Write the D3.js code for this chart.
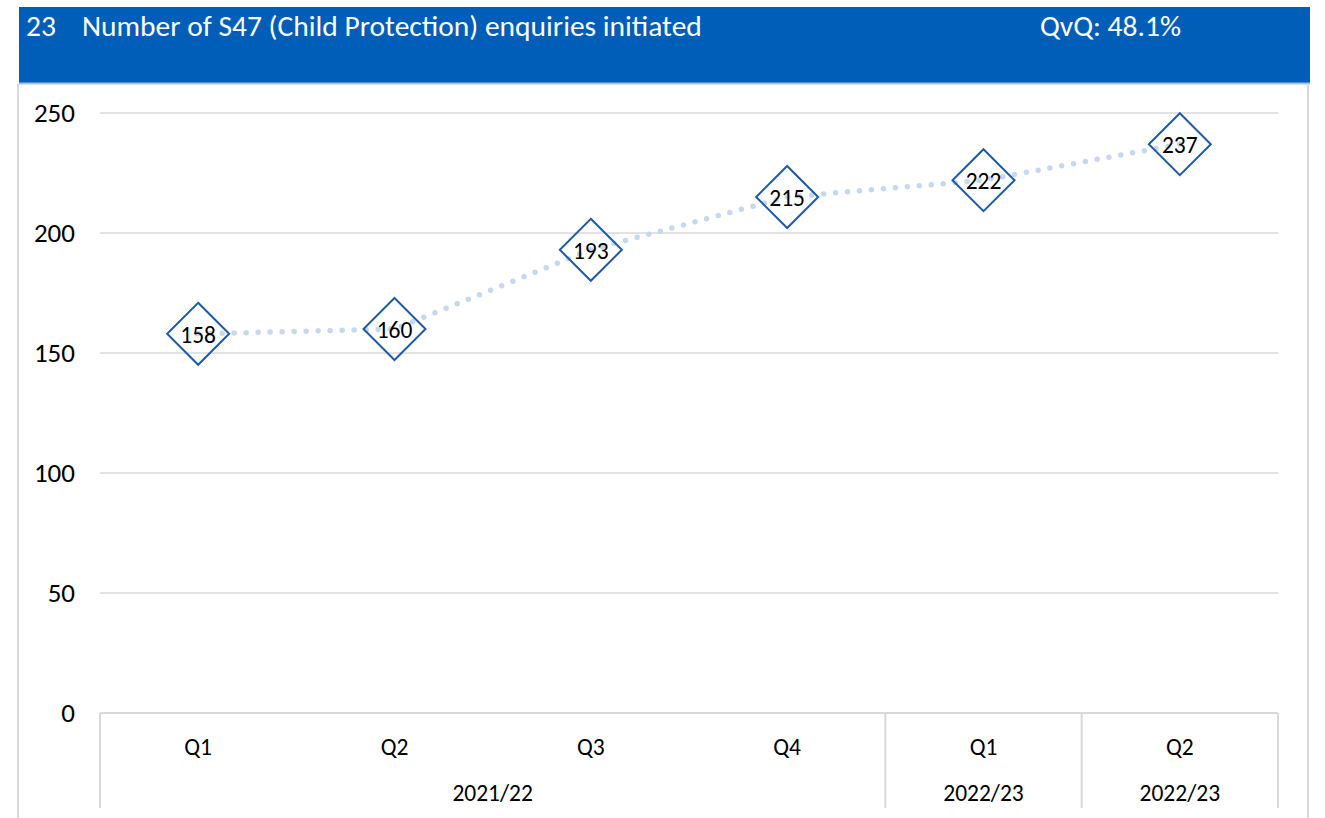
<!DOCTYPE html>
<html lang="en">
<head>
<meta charset="UTF-8">
<title>S47 enquiries initiated</title>
<script src="https://d3js.org/d3.v7.min.js"></script>
<style>
  body { margin: 0; background: #fff; }
  svg text { font-family: Carlito, Calibri, "Open Sans", sans-serif; }
</style>
</head>
<body>
<svg width="1325" height="818"></svg>
<script>
  // data
  const quarters = ["Q1", "Q2", "Q3", "Q4", "Q1", "Q2"];
  const values = [158, 160, 193, 215, 222, 237];
  const yearGroups = ["2021/22", "2022/23", "2022/23"];
  const groupSpans = [4, 1, 1];
  const yTicks = [0, 50, 100, 150, 200, 250];
  const titleNo = "23";
  const titleText = "Number of S47 (Child Protection) enquiries initiated";
  const qvq = "QvQ: 48.1%";

  const svg = d3.select("svg");
  const plot = { left: 100, right: 1278, top: 113, bottom: 713 };

  // header band
  svg.append("rect").attr("x", 19).attr("y", 7).attr("width", 1291).attr("height", 76).attr("fill", "#005EB8");
  svg.append("line").attr("x1", 19).attr("x2", 1310).attr("y1", 83.5).attr("y2", 83.5)
    .attr("stroke", "#A8C2E2").attr("stroke-width", 2);
  svg.append("text").attr("x", 26).attr("y", 36).attr("fill", "#fff").style("font-size", "29.5px").text(titleNo);
  svg.append("text").attr("x", 82).attr("y", 36).attr("fill", "#fff").style("font-size", "29.5px").text(titleText);
  svg.append("text").attr("x", 1040).attr("y", 36).attr("fill", "#fff").style("font-size", "29.5px").text(qvq);

  // outer frame
  svg.append("line").attr("x1", 18).attr("x2", 18).attr("y1", 84).attr("y2", 818).attr("stroke", "#D9D9D9").attr("stroke-width", 2);
  svg.append("line").attr("x1", 1308).attr("x2", 1308).attr("y1", 84).attr("y2", 818).attr("stroke", "#D9D9D9").attr("stroke-width", 2);

  const x = d3.scaleBand().domain(d3.range(values.length)).range([plot.left, plot.right]);
  const y = d3.scaleLinear().domain([0, 250]).range([plot.bottom, plot.top]);

  // gridlines
  svg.append("g").selectAll("line").data(yTicks.filter(d => d > 0)).join("line")
    .attr("x1", plot.left).attr("x2", plot.right)
    .attr("y1", d => y(d)).attr("y2", d => y(d))
    .attr("stroke", "#D9D9D9").attr("stroke-width", 1.5);

  // y labels
  svg.append("g").selectAll("text").data(yTicks).join("text")
    .attr("x", 75).attr("y", d => y(d) + 9)
    .attr("text-anchor", "end").style("font-size", "27px").attr("fill", "#000")
    .text(d => d);

  // category axis
  svg.append("line").attr("x1", plot.left).attr("x2", plot.right).attr("y1", plot.bottom).attr("y2", plot.bottom)
    .attr("stroke", "#D9D9D9").attr("stroke-width", 2);

  let acc = 0;
  const bounds = [0];
  groupSpans.forEach(n => { acc += n; bounds.push(acc); });
  const bx = i => i < values.length ? x(i) : plot.right;
  svg.append("g").selectAll("line").data(bounds).join("line")
    .attr("x1", d => bx(d)).attr("x2", d => bx(d))
    .attr("y1", plot.bottom).attr("y2", 808)
    .attr("stroke", "#D9D9D9").attr("stroke-width", 2);

  svg.append("g").selectAll("text").data(quarters).join("text")
    .attr("x", (d, i) => x(i) + x.bandwidth() / 2).attr("y", 755)
    .attr("text-anchor", "middle").style("font-size", "23.5px").attr("fill", "#000")
    .text(d => d);

  svg.append("g").selectAll("text").data(yearGroups).join("text")
    .attr("x", (d, i) => (bx(bounds[i]) + bx(bounds[i + 1])) / 2).attr("y", 801)
    .attr("text-anchor", "middle").style("font-size", "23.5px").attr("fill", "#000")
    .text(d => d);

  // dotted line
  const line = d3.line().x((d, i) => x(i) + x.bandwidth() / 2).y(d => y(d));
  svg.append("path").datum(values).attr("d", line)
    .attr("fill", "none").attr("stroke", "#C6D8F0").attr("stroke-width", 5.5)
    .attr("stroke-linecap", "round").attr("stroke-dasharray", "0 12");

  // diamond markers
  const r = 31;
  svg.append("g").selectAll("path").data(values).join("path")
    .attr("transform", (d, i) => `translate(${x(i) + x.bandwidth() / 2},${y(d)})`)
    .attr("d", `M0,${-r}L${r},0L0,${r}L${-r},0Z`)
    .attr("fill", "none").attr("stroke", "#1E5AA8").attr("stroke-width", 2);

  svg.append("g").selectAll("text").data(values).join("text")
    .attr("x", (d, i) => x(i) + x.bandwidth() / 2).attr("y", d => y(d) + 9)
    .attr("text-anchor", "middle").style("font-size", "23.5px").attr("fill", "#000")
    .text(d => d);
</script>
</body>
</html>
